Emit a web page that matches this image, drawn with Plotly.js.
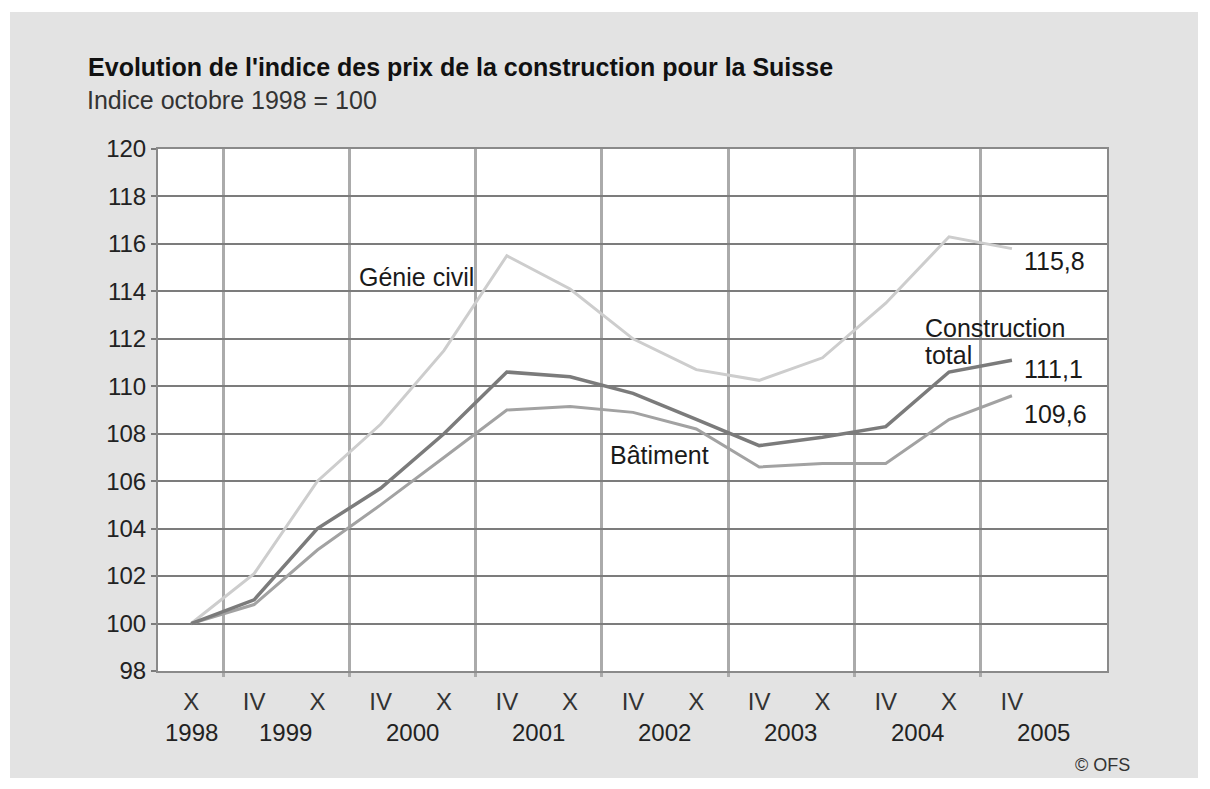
<!DOCTYPE html>
<html>
<head>
<meta charset="utf-8">
<script src="https://cdn.plot.ly/plotly-3.0.1.min.js"></script>
<style>
  html, body { margin: 0; padding: 0; background: #ffffff; }
  #chart { position: absolute; left: 10px; top: 12px; width: 1188px; height: 766px; }
</style>
</head>
<body>
<div id="chart"></div>
<script>
// ---- data ----
const dates = ['1998-10-01','1999-04-01','1999-10-01','2000-04-01','2000-10-01','2001-04-01','2001-10-01',
               '2002-04-01','2002-10-01','2003-04-01','2003-10-01','2004-04-01','2004-10-01','2005-04-01'];
const genieCivil = [100, 102.1, 106.0, 108.4, 111.5, 115.5, 114.1, 112.0, 110.7, 110.25, 111.2, 113.5, 116.3, 115.8];
const constructionTotal = [100, 101.0, 104.0, 105.7, 108.0, 110.6, 110.4, 109.7, 108.6, 107.5, 107.85, 108.3, 110.6, 111.1];
const batiment = [100, 100.8, 103.1, 105.0, 107.0, 109.0, 109.15, 108.9, 108.2, 106.6, 106.75, 106.75, 108.6, 109.6];

const periodTickText = ['X','IV','X','IV','X','IV','X','IV','X','IV','X','IV','X','IV'];
const yearGrid = ['1999-01-01','2000-01-01','2001-01-01','2002-01-01','2003-01-01','2004-01-01','2005-01-01'];
const yearLabels = ['1998','1999','2000','2001','2002','2003','2004','2005'];
const yearLabelPos = ['1998-10-01','1999-07-01','2000-07-01','2001-07-01','2002-07-01','2003-07-01','2004-07-01','2005-07-01'];
const yTickVals = [98,100,102,104,106,108,110,112,114,116,118,120];
const yTickText = ['98','100','102','104','106','108','110','112','114','116','118','120'];

const titleText = "Evolution de l'indice des prix de la construction pour la Suisse";
const subtitleText = 'Indice octobre 1998 = 100';
const sourceText = '© OFS';

const FONT = 'Liberation Sans, Arial, sans-serif';
const last = dates.length - 1;
const fmt = v => String(v).replace('.', ',');

const traces = [
  { x: dates, y: genieCivil, type: 'scatter', mode: 'lines', name: 'Génie civil',
    line: { color: '#cdcdcd', width: 3 }, hoverinfo: 'x+y' },
  { x: dates, y: batiment, type: 'scatter', mode: 'lines', name: 'Bâtiment',
    line: { color: '#a2a2a2', width: 3 }, hoverinfo: 'x+y' },
  { x: dates, y: constructionTotal, type: 'scatter', mode: 'lines', name: 'Construction total',
    line: { color: '#7b7b7b', width: 3.5 }, hoverinfo: 'x+y' }
];

const txt = (x, y, text, opts) => Object.assign({
  x: x, y: y, xref: 'x', yref: 'y', text: text, showarrow: false,
  xanchor: 'left', yanchor: 'middle', font: { family: FONT, size: 25, color: '#1a1a1a' }
}, opts || {});

const annotations = [
  // subtitle
  { xref: 'paper', yref: 'paper', x: -0.0765, y: 1.094, xanchor: 'left', yanchor: 'middle',
    text: subtitleText, showarrow: false, font: { family: FONT, size: 25, color: '#333333' } },
  // source
  { xref: 'paper', yref: 'paper', x: 1.0, y: -0.18, xanchor: 'left', yanchor: 'middle',
    text: sourceText, showarrow: false, font: { family: FONT, size: 18, color: '#333333' },
    xshift: -34 },
  // series labels
  txt('2000-01-25', 114.6, 'Génie civil'),
  txt('2002-01-18', 107.1, 'Bâtiment'),
  txt('2004-07-17', 112.45, 'Construction'),
  txt('2004-07-17', 111.3, 'total'),
  // end values
  txt(dates[last], genieCivil[last], fmt(genieCivil[last]), { xshift: 10, yshift: -12 }),
  txt(dates[last], constructionTotal[last], fmt(constructionTotal[last]), { xshift: 10, yshift: -9 }),
  txt(dates[last], batiment[last], fmt(batiment[last]), { xshift: 10, yshift: -18 })
];

// year labels under the period ticks
yearLabels.forEach((lab, i) => {
  annotations.push({ x: yearLabelPos[i], xref: 'x', yref: 'paper', y: -0.117,
    text: lab, showarrow: false, xanchor: 'center', yanchor: 'middle',
    font: { family: FONT, size: 24, color: '#222222' } });
});

const layout = {
  width: 1188, height: 766,
  paper_bgcolor: '#e3e3e3', plot_bgcolor: '#ffffff',
  margin: { l: 148, r: 91, t: 137, b: 107 },
  showlegend: false,
  title: { text: '<b>' + titleText + '</b>', x: 0.0657, xanchor: 'left', xref: 'container',
           y: 0.928, yanchor: 'middle', yref: 'container',
           font: { family: FONT, size: 25, color: '#111111' } },
  xaxis: {
    type: 'date', range: ['1998-06-27', '2006-01-01'],
    tickmode: 'array', tickvals: dates, ticktext: periodTickText,
    showgrid: false, ticks: '', ticklabelstandoff: 8,
    tickfont: { family: FONT, size: 24, color: '#333333' },
    showline: true, mirror: true, linecolor: '#8a8a8a', linewidth: 2,
    zeroline: false,
    minor: { tickmode: 'array', tickvals: yearGrid, showgrid: true, gridcolor: '#ababab', gridwidth: 3,
             ticks: 'outside', ticklen: 4, tickcolor: '#ababab', tickwidth: 3 }
  },
  yaxis: {
    range: [98, 120], tickmode: 'array', tickvals: yTickVals, ticktext: yTickText,
    showgrid: true, gridcolor: '#7c7c7c', gridwidth: 2,
    ticks: 'outside', ticklen: 5, tickcolor: '#7c7c7c', tickwidth: 2,
    tickfont: { family: FONT, size: 24, color: '#222222' },
    showline: true, mirror: true, linecolor: '#8a8a8a', linewidth: 2,
    zeroline: false
  },
  annotations: annotations
};

Plotly.newPlot('chart', traces, layout, { displayModeBar: false, staticPlot: true });
</script>
</body>
</html>
